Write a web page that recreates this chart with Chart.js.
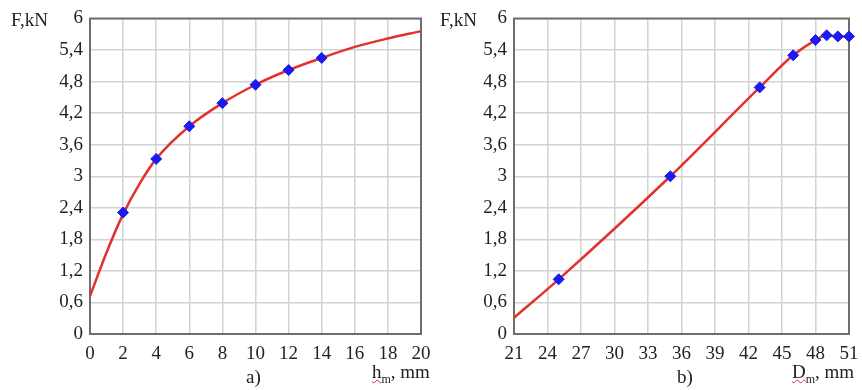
<!DOCTYPE html>
<html>
<head>
<meta charset="utf-8">
<script src="https://cdn.jsdelivr.net/npm/chart.js@4/dist/chart.umd.min.js"></script>
<style>
  body { margin: 0; background: #fff; }
  #wrap { position: relative; width: 862px; height: 390px; font-family: "Liberation Serif", "DejaVu Serif", serif; color: #222; }
  canvas { position: absolute; top: 0; }
  .lbl { position: absolute; font-size: 19px; white-space: nowrap; line-height: 1; }
  .lbl sub { font-size: 12px; }
  .wavy { text-decoration: underline wavy #d03030; text-decoration-thickness: 1px; }
</style>
</head>
<body>
<div id="wrap">
  <canvas id="chart-a" width="431" height="390" style="left:0"></canvas>
  <canvas id="chart-b" width="431" height="390" style="left:431px"></canvas>
  <div class="lbl" style="left:11px;top:10px">F,kN</div>
  <div class="lbl" style="left:440px;top:10px">F,kN</div>
  <div class="lbl" style="left:246px;top:367px">a)</div>
  <div class="lbl" style="left:677px;top:367px">b)</div>
  <div class="lbl" style="left:372px;top:362px"><span class="wavy">h<sub>m</sub></span>, mm</div>
  <div class="lbl" style="left:792px;top:362px"><span class="wavy">D<sub>m</sub></span>, mm</div>
</div>
<script>
// chart a) - force vs h_m
const hCurve = [0, 1, 2, 3, 4, 6, 8, 10, 12, 14, 16, 18, 20];
const fCurveA = [0.72, 1.55, 2.28, 2.86, 3.33, 3.95, 4.39, 4.74, 5.02, 5.25, 5.46, 5.62, 5.76];
const hPoints = [2, 4, 6, 8, 10, 12, 14];
const fPointsA = [2.31, 3.33, 3.95, 4.39, 4.74, 5.02, 5.25];
const xTicksA = [0, 2, 4, 6, 8, 10, 12, 14, 16, 18, 20];

// chart b) - force vs D_m
const dCurve = [21, 25, 35, 43, 46, 48, 49, 50, 51];
const fCurveB = [0.31, 1.04, 3.0, 4.69, 5.30, 5.59, 5.68, 5.66, 5.66];
const dPoints = [25, 35, 43, 46, 48, 49, 50, 51];
const fPointsB = [1.04, 3.0, 4.69, 5.30, 5.59, 5.68, 5.66, 5.66];
const xTicksB = [21, 24, 27, 30, 33, 36, 39, 42, 45, 48, 51];

const yTicks = [0, 0.6, 1.2, 1.8, 2.4, 3, 3.6, 4.2, 4.8, 5.4, 6];

const tickFont = { family: '"Liberation Serif", "DejaVu Serif", serif', size: 19 };
const gridColor = '#d2d2d2';

// frame around the plot area
const framePlugin = {
    id: 'frame',
    beforeDatasetsDraw(chart) {
        const { ctx, chartArea: a } = chart;
        ctx.save();
        ctx.strokeStyle = '#6e6e6e';
        ctx.lineWidth = 2;
        ctx.strokeRect(a.left, a.top, a.right - a.left, a.bottom - a.top);
        ctx.restore();
    }
};

function pairs(xs, ys) {
    return xs.map((x, i) => ({ x: x, y: ys[i] }));
}

function makeChart(id, curveX, curveY, ptX, ptY, xTicks, yWidth, padRight) {
    const ctx = document.getElementById(id).getContext('2d');
    return new Chart(ctx, {
        type: 'scatter',
        data: {
            datasets: [
                {
                    data: pairs(ptX, ptY),
                    pointStyle: 'rectRot',
                    pointRadius: 5.5,
                    backgroundColor: '#1b1bf0',
                    borderColor: '#1b1bf0',
                    borderWidth: 1,
                    order: 0
                },
                {
                    data: pairs(curveX, curveY),
                    showLine: true,
                    cubicInterpolationMode: 'monotone',
                    borderColor: '#e2322c',
                    borderWidth: 2.5,
                    pointRadius: 0,
                    order: 1
                }
            ]
        },
        options: {
            responsive: false,
            animation: false,
            clip: false,
            layout: { padding: { left: 0, right: padRight, top: 18.5, bottom: 0 } },
            plugins: { legend: { display: false }, tooltip: { enabled: false } },
            scales: {
                x: {
                    type: 'linear',
                    min: xTicks[0],
                    max: xTicks[xTicks.length - 1],
                    afterBuildTicks: axis => { axis.ticks = xTicks.map(v => ({ value: v })); },
                    afterFit: s => { s.height = 56; s.paddingLeft = 0; s.paddingRight = 0; },
                    grid: { color: gridColor, lineWidth: 1.5, drawTicks: false },
                    border: { display: false },
                    ticks: { color: '#222', font: tickFont, padding: 9, maxRotation: 0, autoSkip: false }
                },
                y: {
                    type: 'linear',
                    min: 0,
                    max: 6,
                    afterBuildTicks: axis => { axis.ticks = yTicks.map(v => ({ value: v })); },
                    afterFit: s => { s.width = yWidth; s.paddingTop = 0; s.paddingBottom = 0; },
                    grid: { color: gridColor, lineWidth: 1.5, drawTicks: false },
                    border: { display: false },
                    ticks: {
                        color: '#222',
                        font: tickFont,
                        padding: 7,
                        autoSkip: false,
                        callback: v => String(Math.round(v * 10) / 10).replace('.', ',')
                    }
                }
            }
        },
        plugins: [framePlugin]
    });
}

makeChart('chart-a', hCurve, fCurveA, hPoints, fPointsA, xTicksA, 90, 10);
makeChart('chart-b', dCurve, fCurveB, dPoints, fPointsB, xTicksB, 83, 13);
</script>
</body>
</html>
